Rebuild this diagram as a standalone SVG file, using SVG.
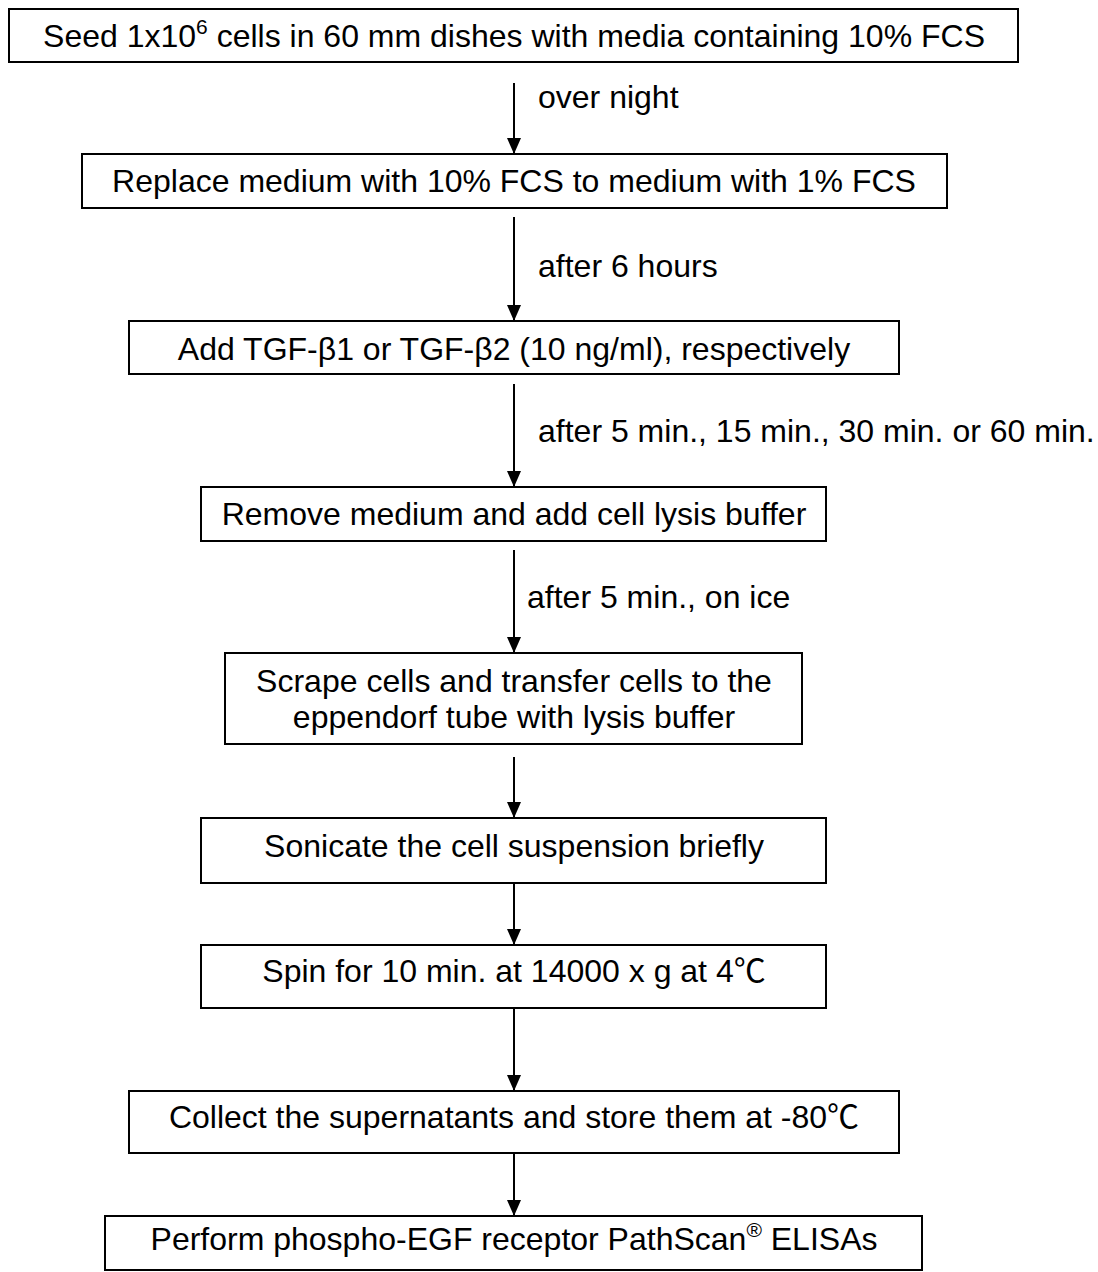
<svg xmlns="http://www.w3.org/2000/svg" width="1098" height="1272" viewBox="0 0 1098 1272">
  <style>
    .box { fill: #ffffff; stroke: #000000; stroke-width: 2; }
    .lbl { font-family: "Liberation Sans", Arial, "Noto Sans CJK SC", sans-serif; font-size: 32px; fill: #000000; }
    .mid { text-anchor: middle; }
    .sup { font-size: 21px; }
    .edge { stroke: #000000; stroke-width: 2; fill: none; marker-end: url(#arrow); }
  </style>
  <defs>
    <marker id="arrow" viewBox="0 0 16 14" refX="16" refY="7" markerWidth="16" markerHeight="14" markerUnits="userSpaceOnUse" orient="auto">
      <path d="M0,0 L16,7 L0,14 Z" fill="#000000"/>
    </marker>
  </defs>
  <rect width="1098" height="1272" fill="#ffffff"/>

  <!-- connectors -->
  <g id="connectors">
    <line class="edge" x1="514" y1="83" x2="514" y2="154"/>
    <line class="edge" x1="514" y1="217" x2="514" y2="321"/>
    <line class="edge" x1="514" y1="384" x2="514" y2="487"/>
    <line class="edge" x1="514" y1="550" x2="514" y2="653"/>
    <line class="edge" x1="514" y1="757" x2="514" y2="818"/>
    <line class="edge" x1="514" y1="884" x2="514" y2="945"/>
    <line class="edge" x1="514" y1="1009" x2="514" y2="1091"/>
    <line class="edge" x1="514" y1="1154" x2="514" y2="1216"/>
    <text class="lbl" x="538" y="108">over night</text>
    <text class="lbl" x="538" y="277">after 6 hours</text>
    <text class="lbl" x="538" y="442">after 5 min., 15 min., 30 min. or 60 min.</text>
    <text class="lbl" x="527" y="608">after 5 min., on ice</text>
  </g>

  <g id="seed">
    <rect class="box" x="9" y="9" width="1009" height="53"/>
    <text class="lbl mid" x="514" y="47">Seed 1x10<tspan class="sup" dy="-13">6</tspan><tspan dy="13"> cells in 60 mm dishes with media containing 10% FCS</tspan></text>
  </g>

  <g id="replace">
    <rect class="box" x="82" y="154" width="865" height="54"/>
    <text class="lbl mid" x="514" y="192">Replace medium with 10% FCS to medium with 1% FCS</text>
  </g>

  <g id="add-tgf">
    <rect class="box" x="129" y="321" width="770" height="53"/>
    <text class="lbl mid" x="514" y="360">Add TGF-β1 or TGF-β2 (10 ng/ml), respectively</text>
  </g>

  <g id="remove-medium">
    <rect class="box" x="201" y="487" width="625" height="54"/>
    <text class="lbl mid" x="514" y="525">Remove medium and add cell lysis buffer</text>
  </g>

  <g id="scrape">
    <rect class="box" x="225" y="653" width="577" height="91"/>
    <text class="lbl mid" x="514" y="692">Scrape cells and transfer cells to the</text>
    <text class="lbl mid" x="514" y="728">eppendorf tube with lysis buffer</text>
  </g>

  <g id="sonicate">
    <rect class="box" x="201" y="818" width="625" height="65"/>
    <text class="lbl mid" x="514" y="857">Sonicate the cell suspension briefly</text>
  </g>

  <g id="spin">
    <rect class="box" x="201" y="945" width="625" height="63"/>
    <text class="lbl mid" x="514" y="982">Spin for 10 min. at 14000 x g at 4℃</text>
  </g>

  <g id="collect">
    <rect class="box" x="129" y="1091" width="770" height="62"/>
    <text class="lbl mid" x="514" y="1128">Collect the supernatants and store them at -80℃</text>
  </g>

  <g id="elisa">
    <rect class="box" x="105" y="1216" width="817" height="54"/>
    <text class="lbl mid" x="514" y="1250">Perform phospho-EGF receptor PathScan<tspan class="sup" dy="-13">®</tspan><tspan dy="13"> ELISAs</tspan></text>
  </g>
</svg>
